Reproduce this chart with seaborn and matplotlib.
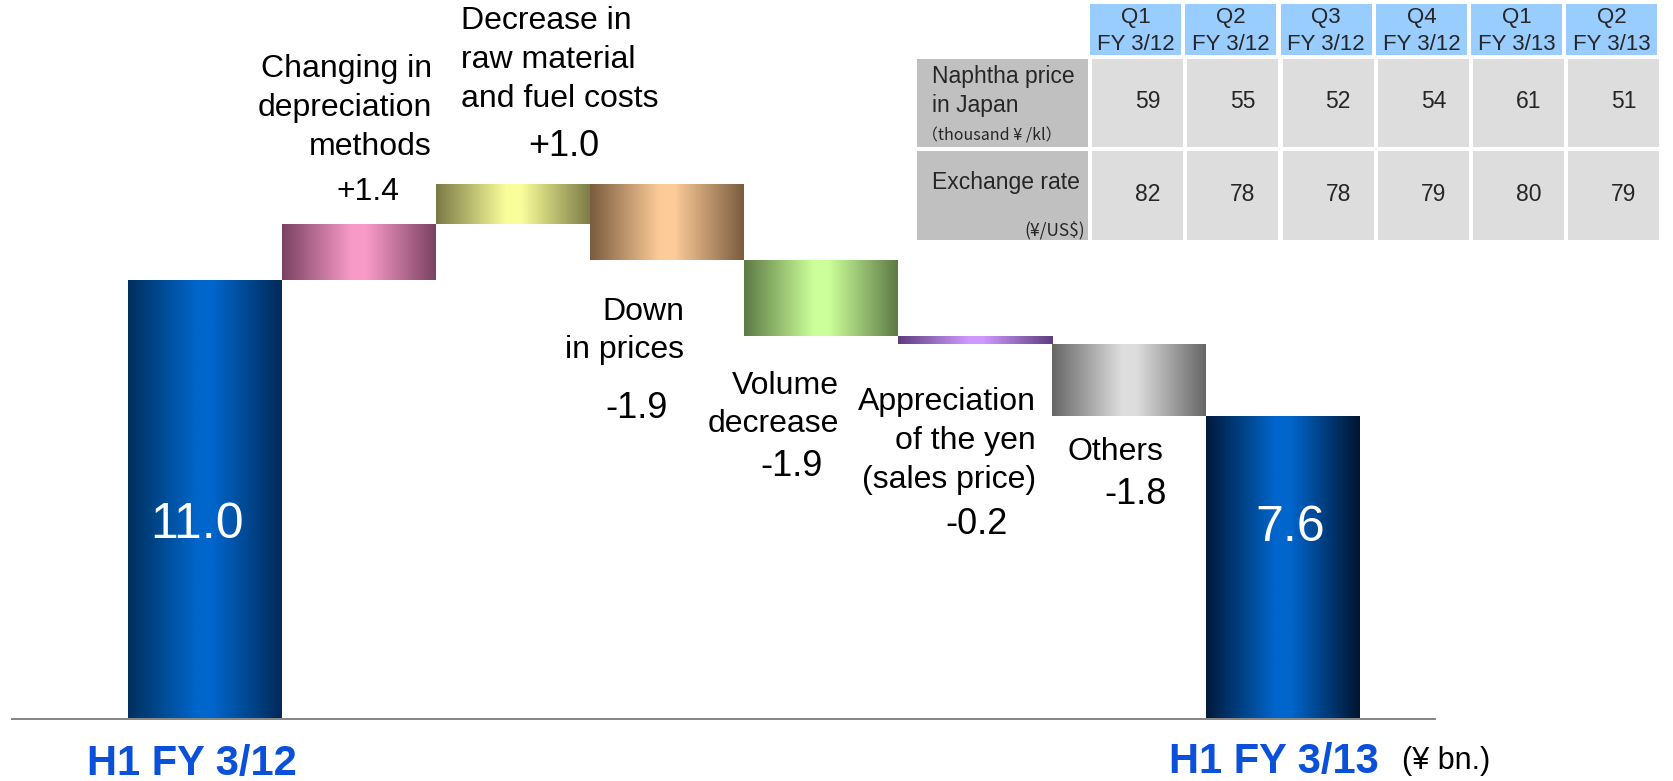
import numpy as np
import pandas as pd
import matplotlib
matplotlib.use("Agg")
import matplotlib.pyplot as plt
import seaborn as sns
from matplotlib.colors import LinearSegmentedColormap
from matplotlib.patches import Rectangle

# ---------------- data ----------------
start_label = "H1 FY 3/12"
end_label = "H1 FY 3/13"
start_value = 11.0
end_value = 7.6
factor_names = ["Changing in\ndepreciation\nmethods",
                "Decrease in\nraw material\nand fuel costs",
                "Down\nin prices",
                "Volume\ndecrease",
                "Appreciation\nof the yen\n(sales price)",
                "Others"]
factor_values = [1.4, 1.0, -1.9, -1.9, -0.2, -1.8]
unit_label = "(¥ bn.)"

quarter_labels = ["Q1\nFY 3/12", "Q2\nFY 3/12", "Q3\nFY 3/12",
                  "Q4\nFY 3/12", "Q1\nFY 3/13", "Q2\nFY 3/13"]
naphtha_price = [59, 55, 52, 54, 61, 51]
exchange_rate = [82, 78, 78, 79, 80, 79]
row_titles = ["Naphtha price\nin Japan", "Exchange rate"]
row_units = ["（thousand ¥ /kl）", "(¥/US$)"]

# ---------------- styles ----------------
# (left edge, centre, right edge) of the horizontal gradient of each bar
bar_gradients = [
    ("#00305e", "#0066cc", "#002a58"),
    ("#7a4262", "#f89ac8", "#7a4262"),
    ("#7a7a45", "#fafd9a", "#7a7a45"),
    ("#7a5c3e", "#fccb98", "#7a5c3e"),
    ("#5c7a45", "#ccff99", "#5c7a45"),
    ("#5e3e7e", "#cc99ff", "#5e3e7e"),
    ("#666666", "#dddddd", "#666666"),
    ("#001a3a", "#0066cc", "#001530"),
]

W, H = 1674, 781
sns.set_theme(style="white")
plt.rcParams["font.family"] = ["Liberation Sans", "DejaVu Sans"]
cjk = ["Noto Sans CJK JP", "DejaVu Sans"]

fig = plt.figure(figsize=(W / 100, H / 100), dpi=100)
fig.patch.set_facecolor("white")

# main axes: baseline at pixel row 720, 40 px per unit
ax_left, ax_right, base_px = 11, 1436, 720
ax = fig.add_axes([ax_left / W, (H - base_px) / H, (ax_right - ax_left) / W, base_px / H])

# waterfall table
items = [start_label] + factor_names + [end_label]
heights, bottoms = [start_value], [0.0]
level = start_value
for d in factor_values:
    new = level + d
    heights.append(abs(d))
    bottoms.append(min(level, new))
    level = new
heights.append(end_value)
bottoms.append(0.0)
df = pd.DataFrame({"item": items, "height": heights, "bottom": bottoms})

sns.barplot(data=df, x="item", y="height", order=items, width=1.0,
            color="white", saturation=1, errorbar=None, ax=ax)

grad = np.linspace(0, 1, 256).reshape(1, -1)
for p, b, (c0, c1, c2) in zip(ax.patches, df["bottom"], bar_gradients):
    p.set_y(b)
    p.set_facecolor("none")
    p.set_linewidth(0)
    cmap = LinearSegmentedColormap.from_list(
        "g", [(0.0, c0), (0.45, c1), (0.55, c1), (1.0, c2)])
    x0, w, y0, h = p.get_x(), p.get_width(), p.get_y(), p.get_height()
    ax.imshow(grad, cmap=cmap, extent=[x0, x0 + w, y0, y0 + h],
              aspect="auto", interpolation="bilinear", zorder=2)

n = len(items)
ax.set_xlim(-(205 - ax_left) / 154, (n - 1) + (ax_right - 1283) / 154)
ax.set_ylim(0, base_px / 40)
ax.axhline(0, color="#888888", lw=3.6, zorder=5)
ax.set_xticks([])
ax.set_yticks([])
ax.set_xlabel("")
ax.set_ylabel("")
for s in ax.spines.values():
    s.set_visible(False)
ax.patch.set_visible(False)

# overlay in pixel coordinates for annotations and table
ov = fig.add_axes([0, 0, 1, 1], zorder=10)
ov.set_xlim(0, W)
ov.set_ylim(H, 0)
ov.axis("off")
ov.patch.set_visible(False)

# factor name labels: (x, y, ha)
name_pos = [(432, 108, "right"), (461, 60, "left"), (684, 331, "right"),
             (839, 405, "right"), (1036, 441, "right"), (1068, 452, "left")]
value_pos = [(368, 192, 23), (564, 147, 26), (637, 408, 26),
              (792, 466, 26), (977, 525, 26), (1136, 494, 26)]
for name, v, (nx, ny, ha), (vx, vy, fs) in zip(factor_names, factor_values, name_pos, value_pos):
    ov.text(nx, ny, name, ha=ha, va="center", fontsize=23, color="black",
            linespacing=1.37, multialignment=ha)
    ov.text(vx, vy, f"{v:+.1f}", ha="center", va="center", fontsize=fs, color="black")

ov.text(197, 525, f"{start_value:.1f}", ha="center", va="center", fontsize=36, color="white")
ov.text(1290, 528, f"{end_value:.1f}", ha="center", va="center", fontsize=36, color="white")
ov.text(192, 775, start_label, ha="center", va="baseline", fontsize=30,
        fontweight="bold", color="#0a50d8")
ov.text(1274, 773, end_label, ha="center", va="baseline", fontsize=30,
        fontweight="bold", color="#0a50d8")
ov.text(1402, 761, unit_label, ha="left", va="center", fontsize=22, color="black")

# ---------------- data table ----------------
col0, pitch, cw = 1092, 95.3, 91
lab_x0, lab_x1 = 917, 1088
hdr = (4, 55)
rows_y = [(59, 147), (151, 240)]
for i, q in enumerate(quarter_labels):
    x = col0 + i * pitch
    ov.add_patch(Rectangle((x - 2, hdr[0]), cw, hdr[1] - hdr[0], color="#99ccff", lw=0))
    top, bot = q.split("\n")
    ov.text(x - 2 + cw / 2, 18, top, ha="center", va="center", fontsize=16)
    ov.text(x - 2 + cw / 2, 45, bot, ha="center", va="center", fontsize=16)

for r, (vals, title, unit) in enumerate(zip([naphtha_price, exchange_rate], row_titles, row_units)):
    y0, y1 = rows_y[r]
    ov.add_patch(Rectangle((lab_x0, y0), lab_x1 - lab_x0, y1 - y0, color="#c0c0c0", lw=0))
    if r == 0:
        ov.text(932, 91, title, ha="left", va="center", fontsize=16.5, linespacing=1.35)
        ov.text(922, 136, unit, ha="left", va="center", fontsize=11.5, family=cjk)
    else:
        ov.text(932, 182, title, ha="left", va="center", fontsize=16.5)
        ov.text(1085, 230, unit, ha="right", va="center", fontsize=12.5, family=cjk)
    for i, v in enumerate(vals):
        x = col0 + i * pitch
        ov.add_patch(Rectangle((x, y0), cw, y1 - y0, color="#dddddd", lw=0))
        ov.text(x + cw / 2 + 10, (y0 + y1) / 2 - 1, str(v), ha="center", va="center", fontsize=16.5)

fig.savefig("out.png", dpi=100, facecolor="white")
